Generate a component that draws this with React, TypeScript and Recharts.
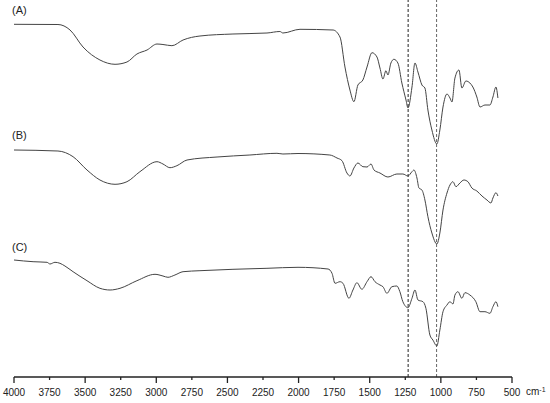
import React from 'react';
import { LineChart, Line, XAxis, YAxis, ReferenceLine } from 'recharts';

// wavenumbers (cm-1) and transmittance (arbitrary units, stacked)
const waveA = [4000, 3691, 3606, 3515, 3396, 3290, 3206, 3136, 3065, 2995, 2953, 2890, 2812, 2693, 2461, 2222, 2131, 2110, 1990, 1758, 1709, 1674, 1639, 1611, 1583, 1548, 1519, 1484, 1449, 1428, 1407, 1386, 1372, 1351, 1330, 1302, 1274, 1245, 1231, 1203, 1182, 1161, 1133, 1112, 1091, 1063, 1028, 1007, 985, 957, 936, 922, 901, 873, 852, 824, 796, 775, 747, 725, 690, 655, 634, 613, 599];
const transA = [352.7, 352.5, 347, 330, 317, 312.7, 315, 323, 327, 333, 332.5, 331.3, 337, 341, 343, 344, 345.5, 344, 347.7, 347, 340, 310, 287, 275.3, 292, 297, 310, 324.3, 320, 309, 298, 306.3, 302, 314, 317.7, 314, 294, 277, 269, 290, 314, 305, 292, 289, 267, 247, 233, 247, 270, 283, 279, 275, 299, 307, 289, 296, 294, 290, 280, 270, 272, 272, 280, 290, 279];

const waveB = [4000, 3691, 3585, 3487, 3396, 3290, 3206, 3115, 2995, 2953, 2904, 2855, 2784, 2573, 2342, 2152, 2110, 2004, 1780, 1730, 1695, 1660, 1639, 1611, 1583, 1548, 1519, 1491, 1470, 1428, 1372, 1309, 1267, 1231, 1203, 1189, 1168, 1154, 1133, 1112, 1091, 1063, 1028, 1007, 985, 957, 936, 915, 894, 866, 838, 810, 782, 747, 711, 676, 648, 634, 613, 599];
const transB = [227, 226, 220.3, 207, 197, 192.7, 195.3, 205.3, 215.3, 213, 209.3, 211.3, 217, 220, 222, 223.7, 223, 223.5, 222, 219, 216.3, 204, 201, 209, 214, 210.3, 210, 213, 207, 204, 200, 203, 203, 201, 205.3, 207, 199, 189, 187, 177, 160.3, 144, 133, 144, 167, 184, 192, 195.3, 190.3, 194, 197, 195.3, 189, 186, 181, 177, 174, 179, 184.3, 181];

const waveC = [4000, 3866, 3768, 3747, 3712, 3677, 3642, 3585, 3487, 3396, 3325, 3255, 3136, 3009, 2953, 2918, 2869, 2812, 2693, 2461, 2222, 2004, 1793, 1765, 1744, 1709, 1688, 1646, 1618, 1590, 1555, 1519, 1491, 1463, 1428, 1407, 1379, 1344, 1309, 1288, 1267, 1231, 1203, 1182, 1161, 1126, 1105, 1077, 1056, 1028, 1007, 985, 957, 936, 915, 901, 880, 852, 831, 796, 754, 725, 690, 655, 634, 613, 599];
const transC = [117, 115.3, 114.7, 113, 114.7, 113.7, 111, 105.3, 96.3, 88.7, 87, 88.7, 96.3, 102.7, 101, 99.7, 102, 105.3, 106.3, 107.7, 108.7, 109.7, 108, 103.7, 93.7, 95.3, 93.7, 78.7, 87, 94.3, 87.7, 95.3, 100.3, 95.3, 92, 90.3, 83.7, 90.3, 91, 85.3, 75.3, 69.3, 78.7, 87, 77, 75.3, 68.7, 42, 37, 31, 47, 65.3, 72, 75.3, 73, 82, 85.3, 78.7, 84.3, 82, 75.3, 65.3, 65.3, 63.7, 70.3, 75.3, 70.3];

const xTicks = [4000, 3750, 3500, 3250, 3000, 2750, 2500, 2250, 2000, 1750, 1500, 1250, 1000, 750, 500];
const markers = [1230, 1030];
const labels = [
  { text: '(A)', top: 3 },
  { text: '(B)', top: 128 },
  { text: '(C)', top: 240 },
];

const toRows = (w: number[], t: number[]) => w.map((wn, i) => ({ wn, t: t[i] }));
const seriesA = toRows(waveA, transA);
const seriesB = toRows(waveB, transB);
const seriesC = toRows(waveC, transC);

const AxisTick = (props: any) => {
  const { x, y, payload } = props;
  const major = payload.value % 500 === 0;
  return (
    <g>
      <line x1={x} x2={x} y1={y} y2={y + (major ? 6 : 3)} stroke="#222" strokeWidth={1.3} />
      <text x={x} y={y + 19} textAnchor="middle" fontSize={10} fill="#222" fontFamily="Liberation Sans, Arial, sans-serif">
        {payload.value}
      </text>
    </g>
  );
};

const App = () => {
  return (
    <div style={{ position: 'absolute', left: 0, top: 0, width: 550, height: 403, background: '#fff', fontFamily: 'Liberation Sans, Arial, sans-serif' }}>
      <LineChart width={550} height={403} margin={{ top: 0, right: 38, left: 14, bottom: 0 }}>
        <XAxis
          dataKey="wn"
          type="number"
          domain={[500, 4000]}
          reversed
          ticks={xTicks}
          interval={0}
          height={26}
          tickSize={0}
          tickMargin={0}
          tickLine={false}
          axisLine={{ stroke: '#222', strokeWidth: 1.3 }}
          tick={<AxisTick />}
          allowDuplicatedCategory={false}
        />
        <YAxis hide type="number" domain={[0, 377]} />
        <ReferenceLine x={markers[0]} stroke="#222" strokeDasharray="3 2" segment={[{ x: markers[0], y: 372 }, { x: markers[0], y: 0 }]} />
        <ReferenceLine x={markers[1]} stroke="#666" strokeDasharray="3 2" segment={[{ x: markers[1], y: 372 }, { x: markers[1], y: 0 }]} />
        <Line data={seriesA} dataKey="t" type="monotone" stroke="#444" strokeWidth={1} dot={false} isAnimationActive={false} />
        <Line data={seriesB} dataKey="t" type="monotone" stroke="#444" strokeWidth={1} dot={false} isAnimationActive={false} />
        <Line data={seriesC} dataKey="t" type="monotone" stroke="#444" strokeWidth={1} dot={false} isAnimationActive={false} />
      </LineChart>
      {labels.map((l) => (
        <div key={l.text} style={{ position: 'absolute', left: 12, top: l.top, fontSize: 11, color: '#222', lineHeight: '14px' }}>
          {l.text}
        </div>
      ))}
      <div style={{ position: 'absolute', left: 526, top: 386, fontSize: 10, color: '#222', lineHeight: '12px' }}>
        cm<sup style={{ fontSize: 7, verticalAlign: 'top', lineHeight: '8px' }}>-1</sup>
      </div>
    </div>
  );
};

export default App;
